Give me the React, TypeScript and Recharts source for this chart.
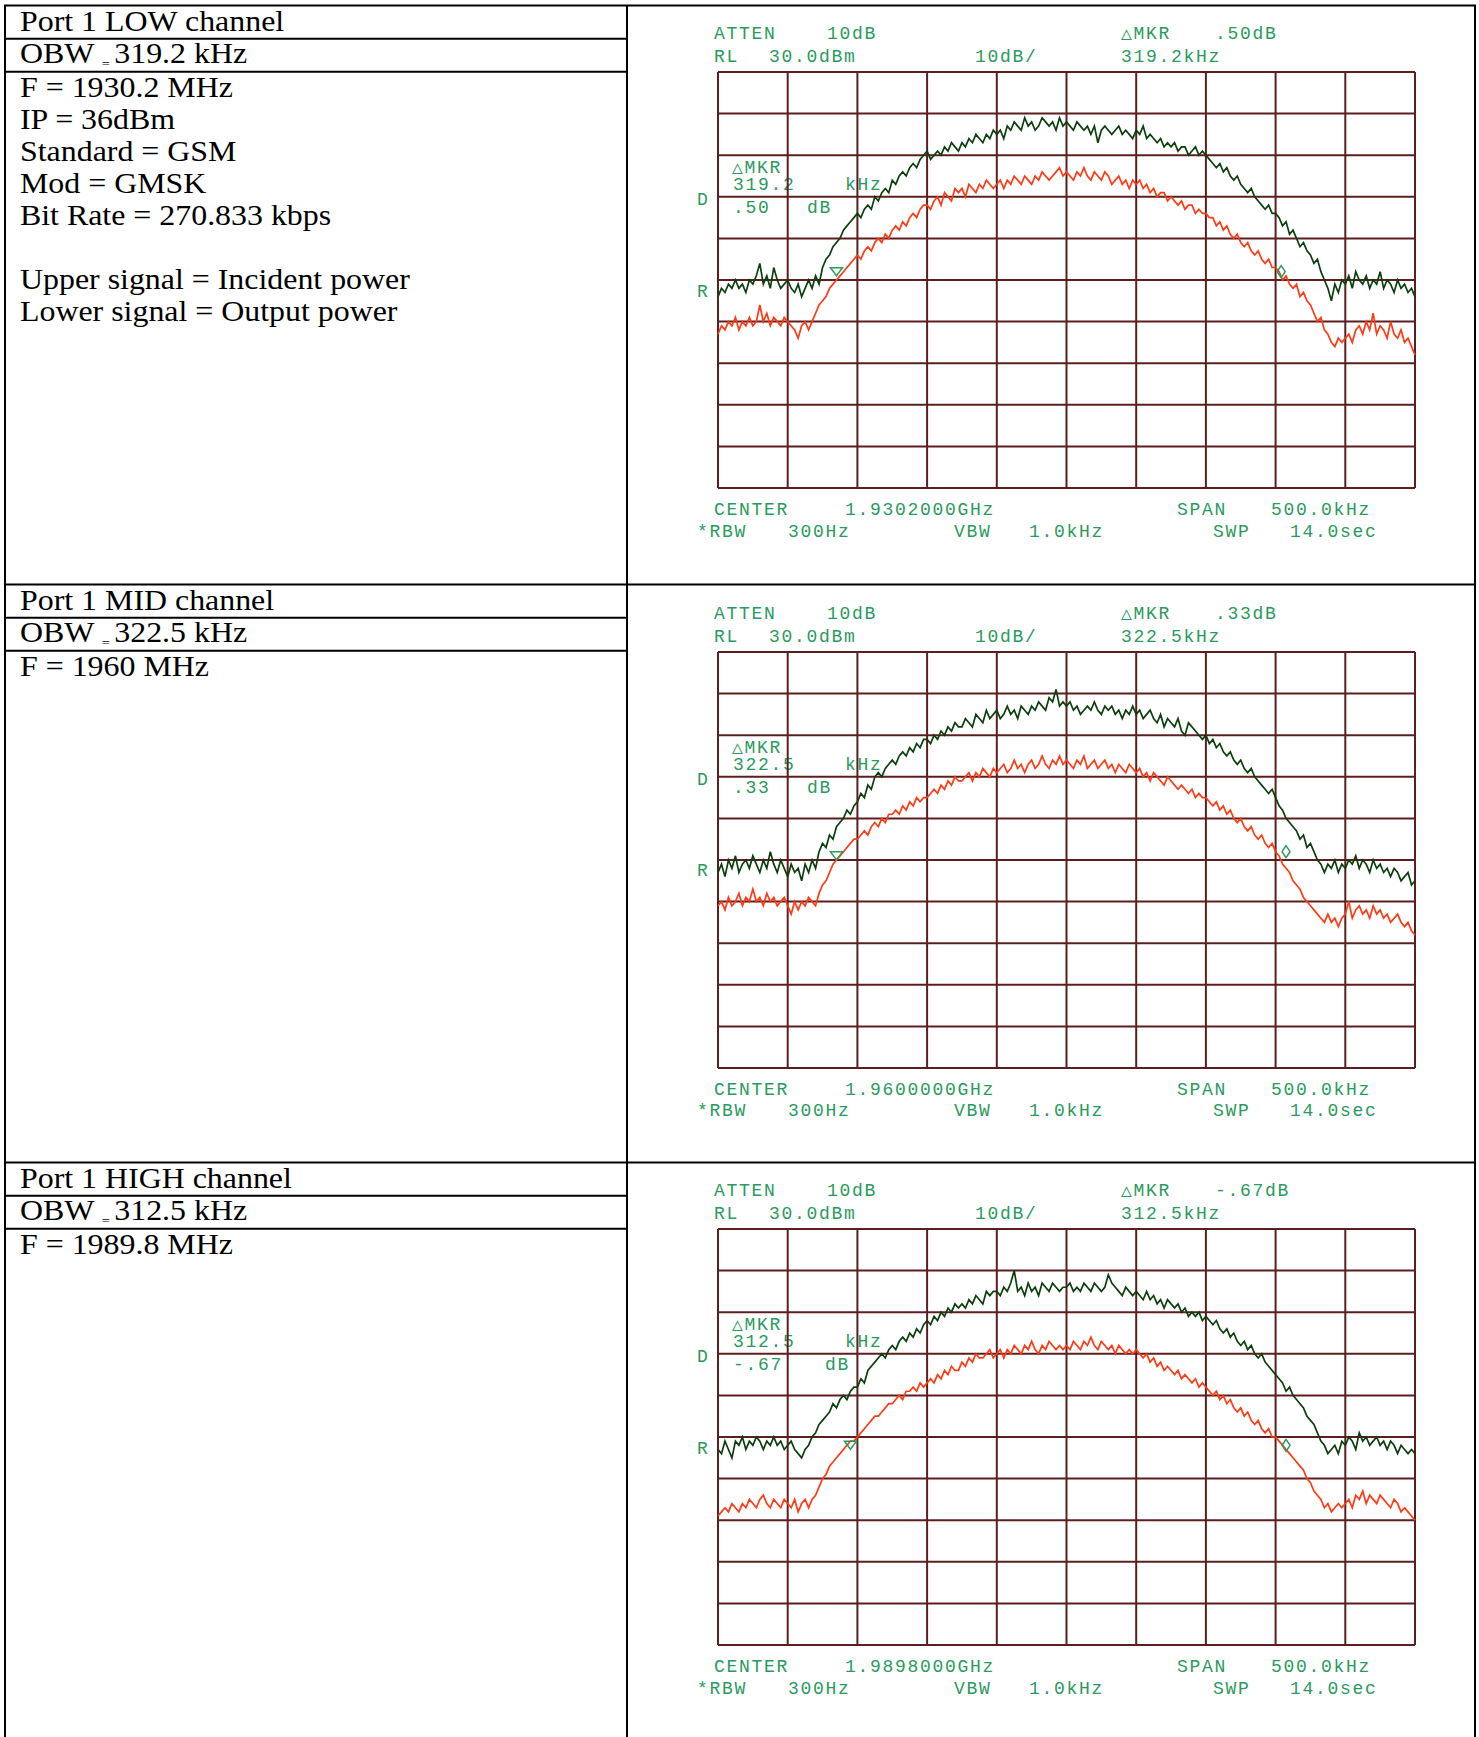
import React from 'react';
import { LineChart, Line, XAxis, YAxis, CartesianGrid, ReferenceDot } from 'recharts';

// ---------- data ----------
const SAMPLE_COUNT = 201; // sweep points across the 500 kHz span
const FREQ_TICKS = [-250, -200, -150, -100, -50, 0, 50, 100, 150, 200, 250];
const LEVEL_TICKS = [-70, -60, -50, -40, -30, -20, -10, 0, 10, 20, 30];

const LOW_INCIDENT = [
  -24,-22,-23,-21,-22,-20,-22,-21,-23,-20,-21,-19,-16,-21,-19,-22,-17,-20,-22,-21,
  -20,-22,-23,-21,-24,-22,-20,-22,-19,-21,-17,-15,-14,-12,-11,-10,-8,-7,-6,-5,
  -4,-5,-3,-2,-3,0,-1,1,2,1,4,3,5,6,5,7,8,7,9,10,
  11,9,10,11,10,12,11,13,12,11,13,12,14,13,15,14,13,15,14,16,
  15,16,14,17,16,18,17,16,19,17,18,16,17,19,18,17,18,16,19,17,
  18,17,16,18,17,16,17,15,17,13,16,17,16,15,16,17,15,16,15,14,
  16,15,17,14,15,14,13,14,12,13,12,13,11,12,12,10,11,12,10,11,
  10,9,8,7,8,6,7,5,4,5,3,2,1,2,0,-1,-2,-3,-2,-4,
  -4,-5,-7,-6,-9,-8,-10,-12,-11,-13,-14,-16,-15,-18,-20,-22,-25,-21,-23,-20,
  -21,-19,-22,-18,-20,-21,-19,-22,-20,-21,-18,-22,-20,-21,-23,-20,-22,-21,-23,-22,
  -24,
];
const LOW_OUTPUT = [
  -33,-31,-32,-30,-31,-29,-32,-30,-31,-29,-31,-30,-26,-30,-28,-31,-29,-30,-31,-29,
  -30,-31,-32,-34,-31,-30,-32,-30,-28,-26,-25,-24,-22,-21,-20,-19,-18,-17,-16,-15,
  -14,-15,-13,-12,-13,-11,-10,-11,-9,-10,-8,-7,-8,-6,-7,-5,-4,-5,-3,-2,
  -2,-3,-1,0,-2,1,0,-1,2,1,2,0,3,2,1,3,2,4,3,2,
  3,4,2,4,3,5,4,3,5,4,3,5,4,6,5,4,5,6,7,5,
  6,5,4,6,5,7,5,4,6,5,4,6,5,3,4,5,3,4,2,4,
  3,4,2,3,1,2,0,1,1,-1,0,-1,-2,-1,-3,-2,-2,-4,-3,-4,
  -4,-5,-5,-7,-6,-8,-7,-9,-10,-9,-11,-12,-11,-13,-14,-13,-15,-16,-15,-17,
  -17,-18,-20,-19,-21,-22,-21,-24,-23,-25,-26,-28,-30,-29,-32,-33,-35,-36,-34,-35,
  -34,-33,-35,-32,-31,-33,-30,-32,-28,-33,-31,-32,-34,-30,-33,-34,-32,-35,-34,-36,
  -38,
];
const MID_INCIDENT = [
  -23,-21,-24,-20,-22,-19,-23,-21,-20,-22,-19,-21,-23,-20,-22,-18,-21,-23,-20,-22,
  -24,-21,-23,-22,-25,-21,-23,-20,-22,-18,-16,-17,-14,-15,-12,-11,-10,-8,-9,-7,
  -6,-4,-5,-2,-3,0,1,0,2,3,4,3,5,6,5,7,6,8,7,9,
  9,8,10,9,11,10,12,11,13,12,12,14,13,12,15,14,13,16,14,15,
  16,14,15,17,15,16,14,17,16,15,17,16,18,17,16,19,18,21,17,18,
  17,18,16,17,15,16,17,16,18,16,15,17,16,17,15,16,14,16,15,17,
  15,16,14,15,16,14,13,15,12,14,13,12,14,11,10,13,12,11,10,9,
  10,8,9,7,8,6,5,6,4,3,4,2,1,2,0,-1,-2,-3,-4,-3,
  -5,-7,-8,-10,-11,-12,-13,-15,-14,-17,-16,-18,-20,-21,-23,-21,-22,-20,-23,-21,
  -22,-20,-21,-19,-22,-20,-21,-23,-20,-22,-21,-23,-22,-24,-22,-23,-25,-24,-23,-26,
  -25,
];
const MID_OUTPUT = [
  -31,-30,-32,-29,-31,-30,-28,-31,-29,-30,-27,-30,-29,-31,-28,-30,-29,-31,-30,-29,
  -31,-33,-30,-32,-30,-31,-29,-30,-31,-28,-26,-25,-23,-21,-20,-19,-18,-17,-16,-15,
  -15,-14,-13,-14,-12,-11,-12,-10,-11,-9,-9,-8,-9,-7,-8,-6,-7,-5,-6,-5,
  -5,-4,-3,-4,-2,-3,-1,-2,0,-1,-1,0,1,-1,1,0,2,1,0,2,
  1,2,3,1,2,4,2,3,1,3,4,2,3,5,3,2,4,3,5,3,
  4,3,2,4,3,5,2,3,4,2,3,4,2,3,1,3,2,1,3,2,
  1,2,0,1,-1,1,0,-1,-2,0,-1,-2,-3,-2,-3,-4,-3,-5,-4,-5,
  -5,-6,-7,-6,-8,-7,-9,-8,-10,-11,-10,-12,-13,-12,-14,-15,-14,-16,-17,-16,
  -18,-19,-21,-22,-23,-25,-26,-27,-29,-30,-31,-32,-33,-34,-35,-33,-35,-34,-36,-34,
  -33,-30,-34,-32,-31,-33,-32,-34,-31,-33,-32,-34,-33,-35,-34,-33,-35,-36,-35,-37,
  -38,
];
const HIGH_INCIDENT = [
  -23,-24,-21,-23,-25,-21,-22,-20,-23,-21,-22,-20,-21,-23,-21,-22,-20,-22,-21,-23,
  -22,-21,-23,-24,-25,-23,-22,-20,-19,-17,-16,-15,-14,-12,-13,-11,-10,-11,-9,-8,
  -8,-6,-7,-4,-3,-2,-1,0,-1,1,2,1,3,4,3,5,4,6,5,7,
  8,7,9,8,10,9,11,10,12,11,12,11,13,12,14,13,12,15,14,15,
  15,14,16,15,17,20,15,16,14,17,15,16,14,17,16,15,17,16,15,16,
  16,17,15,16,15,17,16,15,17,16,15,16,19,17,16,15,14,16,15,14,
  15,14,13,15,13,14,12,13,11,13,12,11,12,10,11,9,10,9,10,8,
  9,8,7,8,6,5,6,4,5,3,2,3,1,2,0,-1,0,-2,-3,-4,
  -5,-6,-7,-9,-8,-10,-11,-12,-13,-15,-16,-17,-19,-21,-22,-24,-23,-22,-24,-21,
  -22,-20,-21,-23,-19,-21,-20,-22,-21,-20,-22,-21,-23,-21,-22,-24,-22,-23,-24,-23,
  -24,
];
const HIGH_OUTPUT = [
  -39,-38,-37,-38,-36,-37,-38,-36,-37,-35,-36,-37,-35,-34,-36,-37,-35,-36,-37,-35,
  -36,-37,-35,-38,-36,-35,-37,-35,-34,-32,-30,-29,-27,-26,-25,-24,-23,-22,-21,-21,
  -20,-19,-18,-17,-16,-15,-15,-14,-13,-12,-12,-11,-10,-11,-9,-9,-8,-9,-7,-8,
  -7,-6,-7,-5,-6,-4,-5,-3,-4,-4,-2,-3,-1,-2,0,-1,-1,0,1,-1,
  0,1,-1,1,0,2,1,0,2,1,3,1,0,2,1,3,2,1,2,1,
  2,1,3,2,1,3,2,4,2,1,3,2,1,2,0,2,1,0,1,0,
  1,0,-1,0,-2,-1,-3,-2,-4,-3,-4,-5,-4,-6,-5,-6,-7,-6,-8,-7,
  -8,-9,-10,-9,-11,-10,-12,-11,-13,-14,-13,-15,-14,-16,-17,-16,-18,-19,-18,-20,
  -20,-21,-22,-23,-24,-25,-26,-27,-28,-30,-31,-33,-34,-35,-37,-36,-38,-37,-36,-37,
  -36,-35,-37,-34,-35,-33,-36,-34,-35,-36,-34,-35,-36,-37,-35,-36,-38,-37,-38,-39,
  -40,
];

// marker positions (kHz offset, dBm)
const LOW_MARKERS = [{ f: -165, level: -18, kind: 'tri' }, { f: 154, level: -18, kind: 'dia' }];
const MID_MARKERS = [{ f: -165, level: -19, kind: 'tri' }, { f: 157.5, level: -18, kind: 'dia' }];
const HIGH_MARKERS = [{ f: -155, level: -22, kind: 'tri' }, { f: 157.5, level: -22, kind: 'dia' }];

const CHANNEL_TITLES = ['Port 1 LOW channel', 'Port 1 MID channel', 'Port 1 HIGH channel'];
const OBW_VALUES = ['319.2 kHz', '322.5 kHz', '312.5 kHz'];
const INFO_LINES = [
  ['F = 1930.2 MHz', 'IP = 36dBm', 'Standard = GSM', 'Mod = GMSK', 'Bit Rate = 270.833 kbps', '', 'Upper signal = Incident power', 'Lower signal = Output power'],
  ['F = 1960 MHz'],
  ['F = 1989.8 MHz'],
];
const CENTER_FREQS = ['1.9302000GHz', '1.9600000GHz', '1.9898000GHz'];
const MKR_DB = ['.50', '.33', '-.67'];
const MKR_KHZ = ['319.2', '322.5', '312.5'];

// ---------- layout / style ----------
const ROW_TOPS = [5.5, 584.5, 1162.5];
const GRID_TOPS = [72, 651.5, 1229];
const GRID_LEFT = 718;
const GRID_W = 697;
const GRID_H = 416;
const PAD = 6;
const GRID_COLOR = '#5c1f1f';
const TRACE_GREEN = '#0c3f0e';
const TRACE_RED = '#ff3a14';
const TEXT_GREEN = '#2b9a5e';

const FREQ_KHZ = Array.from({ length: SAMPLE_COUNT }, (_, i) => -250 + (i * 500) / (SAMPLE_COUNT - 1));

const markerShape = (kind: string) => (props: any) => {
  const { cx, cy } = props;
  if (kind === 'tri') {
    return <path d={`M${cx - 6},${cy - 4} L${cx + 6},${cy - 4} L${cx},${cy + 4} Z`} fill="none" stroke={TEXT_GREEN} strokeWidth={1.5} />;
  }
  return <path d={`M${cx},${cy - 6} L${cx + 4},${cy} L${cx},${cy + 6} L${cx - 4},${cy} Z`} fill="none" stroke={TEXT_GREEN} strokeWidth={1.5} />;
};

function Spectrum({ incident, output, markers, top }: any) {
  const data = FREQ_KHZ.map((f, i) => ({ f, inc: incident[i], out: output[i] }));
  return (
    <div style={{ position: 'absolute', left: GRID_LEFT - PAD, top: top - PAD }}>
      <LineChart width={GRID_W + 2 * PAD} height={GRID_H + 2 * PAD} data={data}
        margin={{ top: PAD, right: PAD, bottom: PAD, left: PAD }}>
        <XAxis type="number" dataKey="f" domain={[-250, 250]} ticks={FREQ_TICKS} hide />
        <YAxis type="number" domain={[-70, 30]} ticks={LEVEL_TICKS} hide />
        <CartesianGrid stroke={GRID_COLOR} strokeWidth={2} />
        <Line type="linear" dataKey="out" stroke={TRACE_RED} strokeWidth={1.7} dot={false} isAnimationActive={false} />
        <Line type="linear" dataKey="inc" stroke={TRACE_GREEN} strokeWidth={1.7} dot={false} isAnimationActive={false} />
        {markers.map((m: any, k: number) => (
          <ReferenceDot key={k} x={m.f} y={m.level} r={5} ifOverflow="visible" shape={markerShape(m.kind)} />
        ))}
      </LineChart>
    </div>
  );
}

const mono: React.CSSProperties = { fontFamily: '"Liberation Mono", "DejaVu Sans Mono", monospace', fontSize: 18, letterSpacing: 1.7 };

function InstrumentText({ idx }: { idx: number }) {
  const gt = GRID_TOPS[idx];
  const t = (x: number, y: number, s: string) => (
    <text x={x} y={y} fill={TEXT_GREEN} style={mono}>{s}</text>
  );
  const dbX = idx === 2 ? 825 : 807;
  return (
    <g>
      {t(714, gt - 32.7, 'ATTEN')}
      {t(827, gt - 32.7, '10dB')}
      {t(1121, gt - 32.7, '\u25B3MKR')}
      {t(1215, gt - 32.7, MKR_DB[idx] + 'dB')}
      {t(714, gt - 9.7, 'RL')}
      {t(769, gt - 9.7, '30.0dBm')}
      {t(975, gt - 9.7, '10dB/')}
      {t(1121, gt - 9.7, MKR_KHZ[idx] + 'kHz')}
      {t(732, gt + 101, '\u25B3MKR')}
      {t(733, gt + 118, MKR_KHZ[idx])}
      {t(845, gt + 118, 'kHz')}
      {t(733, gt + 141, MKR_DB[idx])}
      {t(dbX, gt + 141, 'dB')}
      {t(697, gt + 133, 'D')}
      {t(697, gt + 224.7, 'R')}
      {t(714, gt + 443, 'CENTER')}
      {t(845, gt + 443, CENTER_FREQS[idx])}
      {t(1177, gt + 443, 'SPAN')}
      {t(1271, gt + 443, '500.0kHz')}
      {t(697, gt + 464.7, '*RBW')}
      {t(788, gt + 464.7, '300Hz')}
      {t(954, gt + 464.7, 'VBW')}
      {t(1029, gt + 464.7, '1.0kHz')}
      {t(1213, gt + 464.7, 'SWP')}
      {t(1290, gt + 464.7, '14.0sec')}
    </g>
  );
}

const serif: React.CSSProperties = { fontFamily: '"Liberation Serif", "Times New Roman", serif', fontSize: 29 };

function LeftText({ idx }: { idx: number }) {
  const rt = ROW_TOPS[idx];
  const line = (y: number, content: any, key?: any) => (
    <text key={key} transform={`translate(20, ${y}) scale(1.1, 1)`} fill="#000" style={serif}>{content}</text>
  );
  return (
    <g>
      {line(rt + 25.2, CHANNEL_TITLES[idx])}
      {line(rt + 57.8, <>
        <tspan>OBW </tspan>
        <tspan fontSize={13} dy={5}>=</tspan>
        <tspan dy={-5} dx={4}>{OBW_VALUES[idx]}</tspan>
      </>)}
      {INFO_LINES[idx].map((s, k) => line(rt + 91.2 + k * 32, s, k))}
    </g>
  );
}

export default function App() {
  const H = 1737;
  const W = 1479;
  return (
    <div style={{ position: 'absolute', left: 0, top: 0, width: W, height: H, background: '#fff', overflow: 'hidden' }}>
      <svg width={W} height={H} style={{ position: 'absolute', left: 0, top: 0 }}>
        <line x1={5} y1={5} x2={5} y2={H} stroke="#000" strokeWidth={2} />
        <line x1={627} y1={5} x2={627} y2={H} stroke="#000" strokeWidth={2} />
        <line x1={1475} y1={5} x2={1475} y2={H} stroke="#000" strokeWidth={2} />
        {ROW_TOPS.map((rt, i) => (
          <g key={i}>
            <line x1={4} y1={rt} x2={1476} y2={rt} stroke="#000" strokeWidth={2} />
            <line x1={5} y1={rt + 33.3} x2={627} y2={rt + 33.3} stroke="#000" strokeWidth={2} />
            <line x1={5} y1={rt + 66.3} x2={627} y2={rt + 66.3} stroke="#000" strokeWidth={2} />
            <LeftText idx={i} />
            <InstrumentText idx={i} />
          </g>
        ))}
      </svg>
      <Spectrum incident={LOW_INCIDENT} output={LOW_OUTPUT} markers={LOW_MARKERS} top={GRID_TOPS[0]} />
      <Spectrum incident={MID_INCIDENT} output={MID_OUTPUT} markers={MID_MARKERS} top={GRID_TOPS[1]} />
      <Spectrum incident={HIGH_INCIDENT} output={HIGH_OUTPUT} markers={HIGH_MARKERS} top={GRID_TOPS[2]} />
    </div>
  );
}
